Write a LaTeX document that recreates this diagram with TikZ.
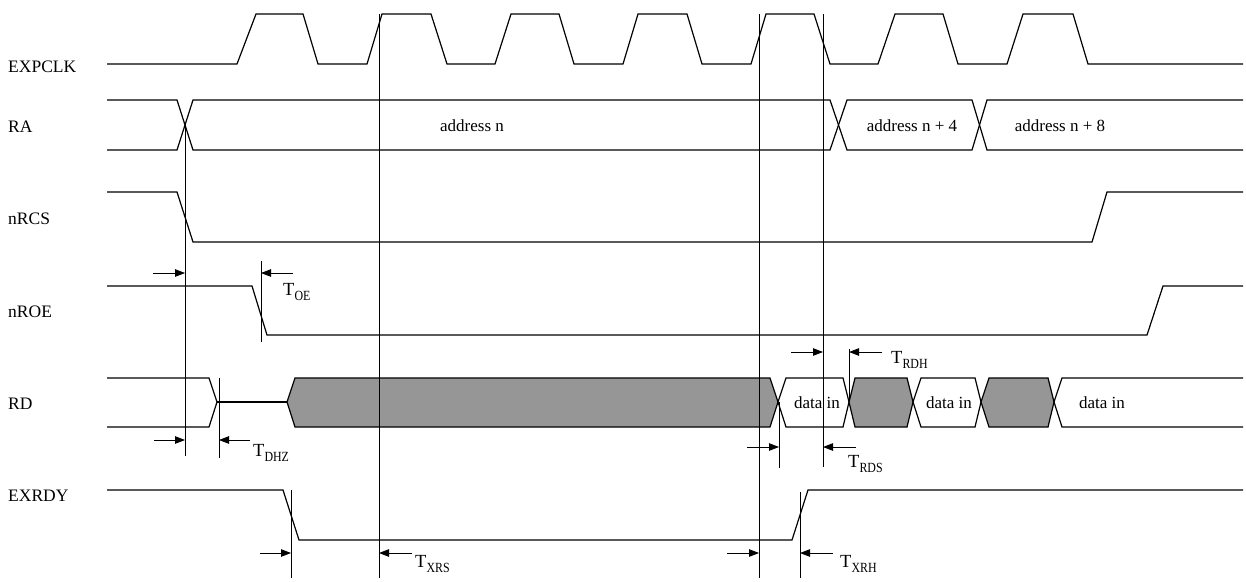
\documentclass[tikz,border=0pt]{standalone}
\usepackage{fontspec}
\setmainfont{Liberation Serif}
\usetikzlibrary{arrows.meta}
\definecolor{busgray}{RGB}{150,150,150}
\newcommand\tsig[1]{{\fontsize{18.5}{18.5}\selectfont T}\raisebox{-5pt}{\scalebox{0.85}[1]{\fontsize{14}{14}\selectfont #1}}}
\begin{document}
\begin{tikzpicture}[x=1pt,y=-1pt,
  sig/.style={line width=1.2pt,line join=miter},
  guide/.style={line width=0.8pt},
  dim/.style={line width=0.8pt,-{Triangle[length=10pt,width=7.5pt]}},
  lbl/.style={anchor=base west,inner sep=0pt,font=\fontsize{17.5}{17.5}\selectfont},
  txt/.style={anchor=base,inner sep=0pt,font=\fontsize{17}{17}\selectfont}]
\useasboundingbox (0,0) rectangle (1246,581);
% signal names
\node[lbl] (nEXPCLK) at (8,72) {EXPCLK};
\node[lbl] (nRA) at (8,132) {RA};
\node[lbl] (nRCS) at (8,224) {nRCS};
\node[lbl] (nROE) at (8,317) {nROE};
\node[lbl] (nRD) at (8,409) {RD};
\node[lbl] (nEXRDY) at (8,501) {EXRDY};
% EXPCLK
\draw[sig] (107,64) -- (237,64) -- (256,14) -- (303,14) -- (318,64) -- (367,64) -- (382,14) -- (431,14) -- (447,64) -- (495,64) -- (511,14) -- (559,14) -- (574,64) -- (623,64) -- (638,14) -- (687,14) -- (702,64) -- (751,64) -- (766,14) -- (814,14) -- (830,64) -- (878,64) -- (895,14) -- (943,14) -- (958,64) -- (1007,64) -- (1023,14) -- (1073,14) -- (1088,64) -- (1243,64);
% RA
\draw[sig] (107,100) -- (177,100) -- (193,150) -- (830,150) -- (847,100) -- (972,100) -- (987,150) -- (1243,150);
\draw[sig] (107,150) -- (177,150) -- (193,100) -- (830,100) -- (847,150) -- (972,150) -- (987,100) -- (1243,100);
\node[txt] (a0) at (472,131) {address n};
\node[txt] (a4) at (912,131) {address n + 4};
\node[txt] (a8) at (1060,131) {address n + 8};
% nRCS
\draw[sig] (107,192) -- (177,192) -- (193,242) -- (1092,242) -- (1107,192) -- (1243,192);
% nROE
\draw[sig] (107,286) -- (252,286) -- (267,335) -- (1147,335) -- (1163,286) -- (1243,286);
% RD
\draw[sig] (107,378) -- (209,378) -- (217,402) -- (209,427) -- (107,427);
\draw[sig] (217,402) -- (287,402);
\draw[sig,fill=busgray] (287,402) -- (295,378) -- (770,378) -- (778,402) -- (770,427) -- (295,427) -- cycle;
\draw[sig] (778,402) -- (786,378) -- (843,378) -- (849,402) -- (843,427) -- (786,427) -- cycle;
\draw[sig,fill=busgray] (849,402) -- (855,378) -- (907,378) -- (913,402) -- (907,427) -- (855,427) -- cycle;
\draw[sig] (913,402) -- (921,378) -- (975,378) -- (981,402) -- (975,427) -- (921,427) -- cycle;
\draw[sig,fill=busgray] (981,402) -- (989,378) -- (1048,378) -- (1054,402) -- (1048,427) -- (989,427) -- cycle;
\draw[sig] (1243,378) -- (1062,378) -- (1054,402) -- (1062,427) -- (1243,427);
\node[txt] (d1) at (817,408) {data in};
\node[txt] (d2) at (949,408) {data in};
\node[txt] (d3) at (1102,408) {data in};
% EXRDY
\draw[sig] (107,490) -- (283,490) -- (299,540) -- (792,540) -- (808,490) -- (1243,490);
% guide lines
\draw[guide] (185,123) -- (185,456);
\draw[guide] (219,378) -- (219,458);
\draw[guide] (261,261) -- (261,342);
\draw[guide] (379,14) -- (379,578);
\draw[guide] (759,14) -- (759,578);
\draw[guide] (823,14) -- (823,467);
\draw[guide] (779,402) -- (779,468);
\draw[guide] (849,349) -- (849,402);
\draw[guide] (291,490) -- (291,578);
\draw[guide] (800,492) -- (800,578);
% dimension arrows
\draw[dim] (153,273) -- (185,273);
\draw[dim] (293,273) -- (261,273);
\node[lbl] (tOE) at (283,295) {\tsig{OE}};
\draw[dim] (154,440) -- (185,440);
\draw[dim] (250,440) -- (219,440);
\node[lbl] (tDHZ) at (253,456) {\tsig{DHZ}};
\draw[dim] (260,553) -- (291,553);
\draw[dim] (412,553) -- (379,553);
\node[lbl] (tXRS) at (415,567) {\tsig{XRS}};
\draw[dim] (727,553) -- (759,553);
\draw[dim] (833,553) -- (800,553);
\node[lbl] (tXRH) at (840,567) {\tsig{XRH}};
\draw[dim] (747,447) -- (779,447);
\draw[dim] (856,447) -- (823,447);
\node[lbl] (tRDS) at (848,467) {\tsig{RDS}};
\draw[dim] (791,352) -- (823,352);
\draw[dim] (882,352) -- (849,352);
\node[lbl] (tRDH) at (891,363) {\tsig{RDH}};
\end{tikzpicture}
\end{document}
